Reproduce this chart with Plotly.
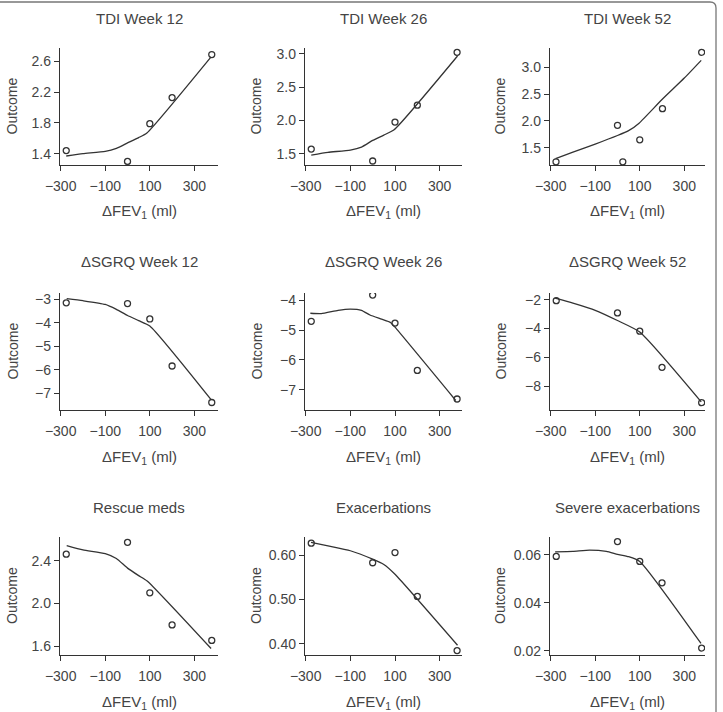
import plotly.graph_objects as go

W, H = 723, 712

# ---------------- data ----------------
titles = ["TDI Week 12", "TDI Week 26", "TDI Week 52",
          "ΔSGRQ Week 12", "ΔSGRQ Week 26", "ΔSGRQ Week 52",
          "Rescue meds", "Exacerbations", "Severe exacerbations"]

pts_x_5 = [-275, 0, 100, 200, 378]
pts_x_6 = [-276, 0, 24, 100, 202, 378]

tdi12_x = pts_x_5
tdi12_y = [1.44, 1.30, 1.79, 2.13, 2.69]
tdi12_lx = [-275, -200, -100, -50, 0, 50, 87, 375]
tdi12_ly = [1.37, 1.40, 1.43, 1.47, 1.54, 1.61, 1.67, 2.66]

tdi26_x = pts_x_5
tdi26_y = [1.57, 1.39, 1.975, 2.23, 3.025]
tdi26_lx = [-275, -200, -100, -50, 0, 50, 96, 380]
tdi26_ly = [1.48, 1.52, 1.555, 1.60, 1.70, 1.78, 1.86, 2.97]

tdi52_x = pts_x_6
tdi52_y = [1.24, 1.92, 1.24, 1.65, 2.23, 3.28]
tdi52_lx = [-278, -200, -100, 0, 50, 97, 200, 300, 376]
tdi52_ly = [1.30, 1.42, 1.57, 1.73, 1.82, 1.96, 2.40, 2.80, 3.13]

sgrq12_x = pts_x_5
sgrq12_y = [-3.14, -3.17, -3.83, -5.84, -7.40]
sgrq12_lx = [-273, -200, -100, -50, 0, 50, 100, 375]
sgrq12_ly = [-2.96, -3.05, -3.21, -3.42, -3.68, -3.90, -4.13, -7.28]

sgrq26_x = pts_x_5
sgrq26_y = [-4.70, -3.82, -4.76, -6.35, -7.31]
sgrq26_lx = [-279, -230, -155, -100, -50, -12, 40, 80, 99, 372]
sgrq26_ly = [-4.43, -4.44, -4.33, -4.29, -4.33, -4.49, -4.63, -4.74, -4.89, -7.36]

sgrq52_x = pts_x_5
sgrq52_y = [-2.07, -2.92, -4.19, -6.70, -9.15]
sgrq52_lx = [-280, -200, -100, 0, 100, 376]
sgrq52_ly = [-1.90, -2.25, -2.74, -3.45, -4.25, -9.10]

rescue_x = pts_x_5
rescue_y = [2.46, 2.57, 2.10, 1.80, 1.656]
rescue_lx = [-273, -200, -100, -50, 0, 50, 88, 375]
rescue_ly = [2.54, 2.50, 2.465, 2.42, 2.33, 2.26, 2.21, 1.58]

exac_x = pts_x_5
exac_y = [0.627, 0.583, 0.606, 0.507, 0.385]
exac_lx = [-276, -200, -100, 0, 50, 100, 380]
exac_ly = [0.629, 0.621, 0.610, 0.591, 0.579, 0.557, 0.397]

sev_x = pts_x_5
sev_y = [0.0593, 0.0655, 0.0572, 0.0483, 0.0211]
sev_lx = [-280, -200, -125, -50, 0, 50, 100, 375]
sev_ly = [0.0612, 0.0614, 0.0619, 0.0614, 0.0602, 0.0592, 0.0572, 0.0230]

x_ticks = [-300, -100, 100, 300]
y_ticks = [[1.4, 1.8, 2.2, 2.6], [1.5, 2.0, 2.5, 3.0], [1.5, 2.0, 2.5, 3.0],
           [-7, -6, -5, -4, -3], [-7, -6, -5, -4], [-8, -6, -4, -2],
           [1.6, 2.0, 2.4], [0.40, 0.50, 0.60], [0.02, 0.04, 0.06]]
y_fmt = [".1f", ".1f", ".1f", "d", "d", "d", ".1f", ".2f", ".2f"]

panels = [(tdi12_x, tdi12_y, tdi12_lx, tdi12_ly),
          (tdi26_x, tdi26_y, tdi26_lx, tdi26_ly),
          (tdi52_x, tdi52_y, tdi52_lx, tdi52_ly),
          (sgrq12_x, sgrq12_y, sgrq12_lx, sgrq12_ly),
          (sgrq26_x, sgrq26_y, sgrq26_lx, sgrq26_ly),
          (sgrq52_x, sgrq52_y, sgrq52_lx, sgrq52_ly),
          (rescue_x, rescue_y, rescue_lx, rescue_ly),
          (exac_x, exac_y, exac_lx, exac_ly),
          (sev_x, sev_y, sev_lx, sev_ly)]

# ---------------- layout geometry (pixels) ----------------
col_px = [(60, 218), (305, 462), (550, 705)]
row_px = [(48, 165), (293, 410), (537, 655)]
x_ranges = [[-303, 406], [-303, 400], [-303, 393]]
y_ranges = [[1.253, 2.775], [1.33, 3.09], [1.18, 3.36],
            [-7.72, -2.72], [-7.68, -3.75], [-9.66, -1.54],
            [1.52, 2.62], [0.375, 0.641], [0.0182, 0.0674]]
ytitle_px = [12, 256, 500]
title_py = [18, 262, 507]
xtitle_py = [212, 457, 702]

FONT = "Liberation Sans, Arial, Helvetica, sans-serif"
INK = "#333333"
TXT = "#444444"

fig = go.Figure()
layout = dict(width=W, height=H, margin=dict(l=0, r=0, t=0, b=0, pad=0, autoexpand=False),
              paper_bgcolor="white", plot_bgcolor="white", showlegend=False,
              font=dict(family=FONT, color=TXT, size=14))
annotations = []

for i, (px_, py_, lx, ly) in enumerate(panels):
    r, c = divmod(i, 3)
    n = i + 1
    xa = "xaxis" if n == 1 else f"xaxis{n}"
    ya = "yaxis" if n == 1 else f"yaxis{n}"
    xr = "x" if n == 1 else f"x{n}"
    yr = "y" if n == 1 else f"y{n}"
    x0, x1 = col_px[c]
    y0, y1 = row_px[r]
    common = dict(showgrid=False, zeroline=False, showline=True, linecolor=INK,
                  linewidth=1.4, ticks="outside", ticklen=5, tickwidth=1.3,
                  tickcolor=INK, automargin=False,
                  tickfont=dict(size=14, color=TXT, family=FONT))
    layout[xa] = dict(common, domain=[x0 / W, x1 / W], range=x_ranges[c],
                      anchor=yr, tickvals=x_ticks, tickformat="d", ticklabelstandoff=3)
    layout[ya] = dict(common, domain=[1 - y1 / H, 1 - y0 / H], range=y_ranges[i],
                      anchor=xr, tickvals=y_ticks[i], tickformat=y_fmt[i])
    fig.add_trace(go.Scatter(x=lx, y=ly, mode="lines", xaxis=xr, yaxis=yr,
                             line=dict(color=INK, width=1.3, shape="spline", smoothing=0.5),
                             hoverinfo="skip"))
    fig.add_trace(go.Scatter(x=px_, y=py_, mode="markers", xaxis=xr, yaxis=yr,
                             marker=dict(symbol="circle-open", size=6, color=INK,
                                         line=dict(width=1.3, color=INK))))
    cx = (x0 + x1) / 2
    annotations.append(dict(text=titles[i], x=cx / W, y=1 - title_py[r] / H,
                            xref="paper", yref="paper", showarrow=False,
                            xanchor="center", yanchor="middle",
                            font=dict(size=15, color=TXT, family=FONT)))
    annotations.append(dict(text="Outcome", x=ytitle_px[c] / W, y=1 - (y0 + y1) / 2 / H,
                            xref="paper", yref="paper", showarrow=False, textangle=-90,
                            xanchor="center", yanchor="middle",
                            font=dict(size=14, color=TXT, family=FONT)))
    annotations.append(dict(text="ΔFEV<sub>1</sub> (ml)", x=cx / W, y=1 - xtitle_py[r] / H,
                            xref="paper", yref="paper", showarrow=False,
                            xanchor="center", yanchor="middle",
                            font=dict(size=15, color=TXT, family=FONT)))

layout["annotations"] = annotations

# outer frame with rounded top-right corner
rx, top = 716 / W, 1 - 2 / H
dx, dy = 6 / W, 6 / H
layout["shapes"] = [dict(type="path", xref="paper", yref="paper",
                         path=f"M -0.02,{top} L {rx - dx},{top} Q {rx},{top} {rx},{top - dy} L {rx},-0.02",
                         line=dict(color="#777777", width=1.3))]

fig.update_layout(**layout)
fig.write_html("out.html")
